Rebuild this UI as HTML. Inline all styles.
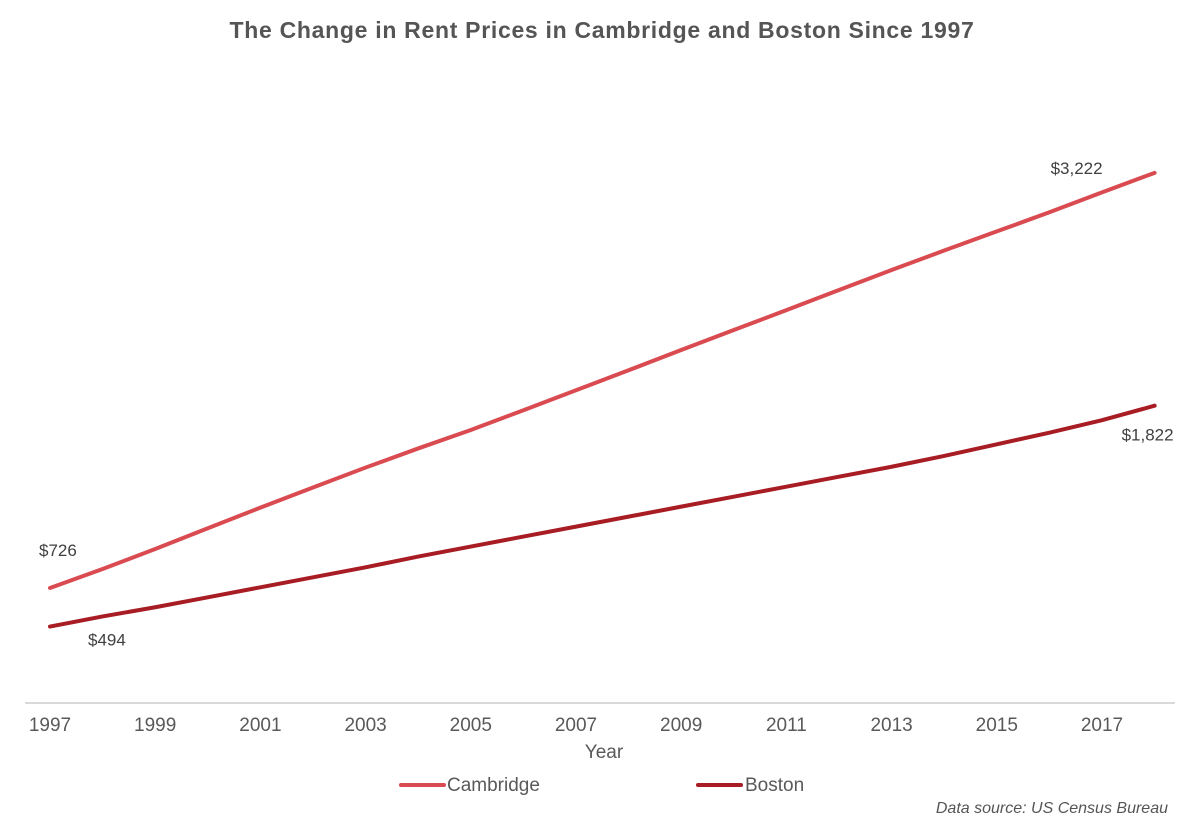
<!DOCTYPE html>
<html><head><meta charset="utf-8"><style>
body{margin:0;background:#fff;width:1200px;height:833px;overflow:hidden;font-family:"Liberation Sans",sans-serif}
svg text{font-family:"Liberation Sans",sans-serif}
</style></head><body>
<svg id="chart" width="1200" height="833">
<text x="602" y="38" text-anchor="middle" font-size="23" font-weight="bold" letter-spacing="0.7" fill="#555">The Change in Rent Prices in Cambridge and Boston Since 1997</text>
<line x1="25" y1="703" x2="1175" y2="703" stroke="#d9d9d9" stroke-width="2"/>
<g id="ticks"></g>
<text x="604" y="758" text-anchor="middle" font-size="19" fill="#595959">Year</text>
<g id="series"></g>
<g><line x1="401" y1="785" x2="444" y2="785" stroke="#d94b50" stroke-width="4" stroke-linecap="round"/><text x="447" y="791" font-size="19" fill="#595959">Cambridge</text></g>
<g><line x1="698" y1="785" x2="741" y2="785" stroke="#a81c24" stroke-width="4" stroke-linecap="round"/><text x="745" y="791" font-size="19" fill="#595959">Boston</text></g>
<text x="1168" y="813" text-anchor="end" font-size="16" font-style="italic" fill="#555">Data source: US Census Bureau</text>
</svg>
<script>
const years=[1997,1998,1999,2000,2001,2002,2003,2004,2005,2006,2007,2008,2009,2010,2011,2012,2013,2014,2015,2016,2017,2018];
const cambridge=[726,840,960,1085,1209,1330,1450,1565,1676,1795,1915,2035,2157,2277,2397,2518,2638,2755,2870,2985,3105,3222];
const boston=[494,555,610,670,730,790,850,915,975,1035,1095,1155,1215,1275,1335,1395,1455,1520,1590,1660,1735,1822];
const tickYears=[1997,1999,2001,2003,2005,2007,2009,2011,2013,2015,2017];
const NS="http://www.w3.org/2000/svg";
const xs=y=>50+(y-1997)*52.6;
const ys=v=>708.7-v*0.1663;
const tg=document.getElementById('ticks');
tickYears.forEach(t=>{const e=document.createElementNS(NS,'text');e.setAttribute('x',xs(t));e.setAttribute('y',731);e.setAttribute('text-anchor','middle');e.setAttribute('font-size','19');e.setAttribute('fill','#595959');e.textContent=t;


tg.appendChild(e);});
const sg=document.getElementById('series');
function draw(vals,color,name){const p=document.createElementNS(NS,'polyline');p.setAttribute('points',vals.map((v,i)=>xs(years[i])+','+ys(v)).join(' '));p.setAttribute('fill','none');p.setAttribute('stroke',color);p.setAttribute('stroke-width','4');p.setAttribute('stroke-linecap','round');


sg.appendChild(p);}
draw(cambridge,'#d94b50','cambridge-line');
draw(boston,'#a81c24','boston-line');
const fmt=v=>'$'+v.toLocaleString('en-US');
function lab(x,y,t,anchor,name){const e=document.createElementNS(NS,'text');e.setAttribute('x',x);e.setAttribute('y',y);e.setAttribute('text-anchor',anchor);e.setAttribute('font-size','17');e.setAttribute('fill','#404040');e.textContent=t;


sg.appendChild(e);}
const n=years.length-1;
lab(xs(years[0])-11,ys(cambridge[0])-32,fmt(cambridge[0]),'start','label-cambridge-start');
lab(xs(years[0])+38,ys(boston[0])+19,fmt(boston[0]),'start','label-boston-start');
lab(xs(years[n])-104,ys(cambridge[n])+1,fmt(cambridge[n]),'start','label-cambridge-end');
lab(xs(years[n])-33,ys(boston[n])+35,fmt(boston[n]),'start','label-boston-end');
</script>
</body></html>
